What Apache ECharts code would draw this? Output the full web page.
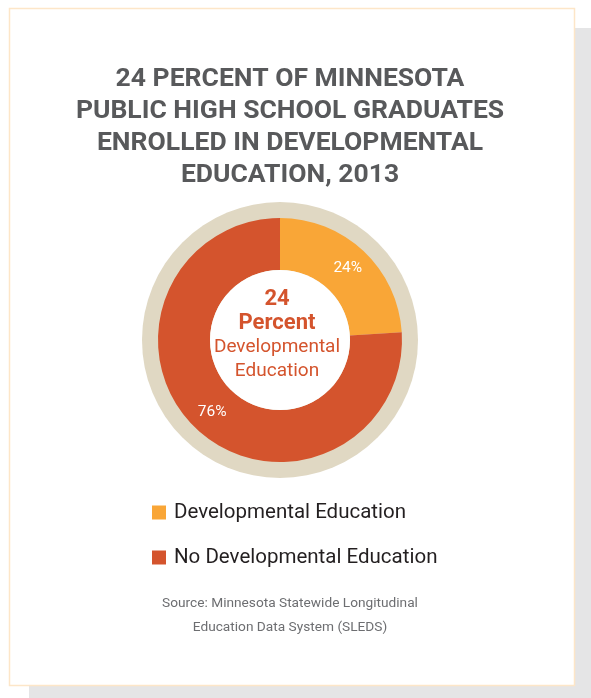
<!DOCTYPE html>
<html>
<head>
<meta charset="utf-8">
<script src="https://cdn.jsdelivr.net/npm/echarts@6/dist/echarts.min.js"></script>
<style>
html,body{margin:0;padding:0;background:#ffffff;}
#chart{width:591px;height:698px;}
</style>
</head>
<body>
<div id="chart"></div>
<script>
const titleLines = ['24 PERCENT OF MINNESOTA', 'PUBLIC HIGH SCHOOL GRADUATES', 'ENROLLED IN DEVELOPMENTAL', 'EDUCATION, 2013'];
const categories = ['Developmental Education', 'No Developmental Education'];
const values = [24, 76];
const sliceLabels = ['24%', '76%'];
const centerLines = ['24', 'Percent', 'Developmental', 'Education'];
const sourceLines = ['Source: Minnesota Statewide Longitudinal', 'Education Data System (SLEDS)'];
const colors = ['#f9a637', '#d4542d'];

const chart = echarts.init(document.getElementById('chart'), null, {renderer: 'canvas'});
const FONT = 'Roboto, "Noto Sans", sans-serif';

chart.setOption({
  backgroundColor: '#ffffff',
  animation: false,
  color: colors,
  graphic: [
    {type: 'rect', z: -10, shape: {x: 29, y: 28, width: 562, height: 670}, style: {fill: '#e5e5e6'}},
    {type: 'rect', z: -9, shape: {x: 9.5, y: 8.5, width: 565, height: 677}, style: {fill: '#ffffff', stroke: '#fde6c8', lineWidth: 1.5}},
    {type: 'text', z: 10, x: 290, y: 63, style: {
      text: titleLines.join('\n'), align: 'center', verticalAlign: 'top',
      font: 'bold 26.5px ' + FONT, fill: '#58595b', lineHeight: 32
    }},
    {type: 'text', z: 10, x: 277, y: 287, style: {
      text: '{b|' + centerLines[0] + '}\n{b|' + centerLines[1] + '}\n{r|' + centerLines[2] + '}\n{r|' + centerLines[3] + '}',
      align: 'center', verticalAlign: 'top',
      rich: {
        b: {fontFamily: FONT, fontWeight: 'bold', fontSize: 22, fill: '#d4542d', color: '#d4542d', lineHeight: 24, align: 'center'},
        r: {fontFamily: FONT, fontSize: 19, fill: '#d4542d', color: '#d4542d', lineHeight: 24, align: 'center'}
      }
    }},
    {type: 'text', z: 10, x: 290, y: 592, style: {
      text: sourceLines.join('\n'), align: 'center', verticalAlign: 'top',
      font: '13.7px ' + FONT, fill: '#6d6e71', lineHeight: 24
    }}
  ],
  legend: {
    orient: 'vertical', left: 147, top: 497,
    itemWidth: 14, itemHeight: 14, itemGap: 24, icon: 'rect',
    textStyle: {fontFamily: FONT, fontSize: 20.5, color: '#231f20', padding: [0, 0, 0, 3]},
    data: categories
  },
  series: [
    {
      type: 'pie', silent: true, center: [280, 340], radius: [0, 138],
      label: {show: false}, labelLine: {show: false},
      itemStyle: {color: '#e0d8c3'},
      data: [{value: 1, name: 'ring'}]
    },
    {
      type: 'pie', center: [280, 340], radius: [70, 122], startAngle: 90, clockwise: true,
      label: {show: true, position: 'inside', formatter: p => sliceLabels[p.dataIndex], color: '#ffffff', fontFamily: FONT, fontSize: 15.5},
      labelLine: {show: false},
      itemStyle: {borderWidth: 0},
      emphasis: {disabled: true},
      data: categories.map((c, i) => ({name: c, value: values[i]}))
    },
    {
      type: 'pie', silent: true, center: [280, 340], radius: [0, 70],
      label: {show: false}, labelLine: {show: false},
      itemStyle: {color: '#ffffff'},
      data: [{value: 1, name: 'hole'}]
    }
  ]
});
</script>
</body>
</html>
